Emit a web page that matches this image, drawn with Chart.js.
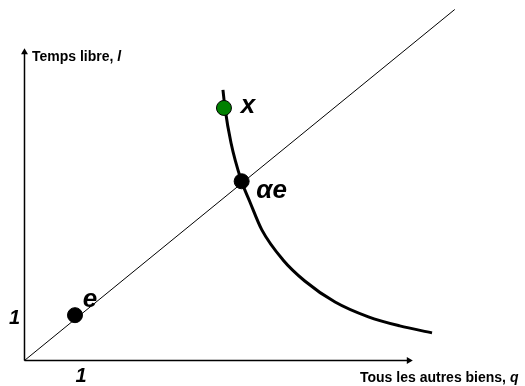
<!DOCTYPE html>
<html>
<head>
<meta charset="utf-8">
<script src="https://cdn.jsdelivr.net/npm/chart.js@4/dist/chart.umd.min.js"></script>
<style>
  body { margin: 0; background: #fff; }
</style>
</head>
<body>
<canvas id="chart" width="525" height="386"></canvas>
<script>
// axes (origin at 0,0), arrow tips drawn as triangles at the last point
const yAxisLine = [{x: 0, y: 0}, {x: 0, y: 7.48}];
const xAxisLine = [{x: 0, y: 0}, {x: 7.61, y: 0}];

// ray through the origin
const diagonal = [{x: 0, y: 0}, {x: 8.52, y: 8.52}];

// indifference curve
const curveX = [3.93, 3.97, 4.09, 4.29, 4.47, 4.70, 5.12, 5.55, 6.15, 6.81, 7.43, 8.07];
const curveY = [6.57, 6.13, 5.28, 4.38, 3.83, 3.17, 2.44, 1.93, 1.42, 1.06, 0.84, 0.67];

// marked bundles
const pointNames = ['e', 'αe', 'x'];
const pointX = [1.0, 4.3, 3.95];
const pointY = [1.1, 4.35, 6.13];

const curve = curveX.map((x, i) => ({x: x, y: curveY[i]}));
const pts = pointX.map((x, i) => ({x: x, y: pointY[i]}));

const labelsPlugin = {
    id: 'labels',
    afterDraw(chart) {
        const ctx = chart.ctx;
        const xs = chart.scales.x;
        const ys = chart.scales.y;
        ctx.save();
        ctx.fillStyle = '#000';

        // point labels
        ctx.font = 'italic bold 26px "Liberation Sans", Arial, sans-serif';
        ctx.textBaseline = 'middle';
        ctx.textAlign = 'center';
        const offsets = [[15, -15], [30, 10], [24, -2]];
        pts.forEach((p, i) => {
            ctx.fillText(pointNames[i], xs.getPixelForValue(p.x) + offsets[i][0], ys.getPixelForValue(p.y) + offsets[i][1]);
        });

        // the "1" marks
        ctx.font = 'italic bold 20px "Liberation Sans", Arial, sans-serif';
        ctx.fillText('1', xs.getPixelForValue(0) - 10, ys.getPixelForValue(1) - 1);
        ctx.fillText('1', xs.getPixelForValue(1) + 6, ys.getPixelForValue(0) + 16);

        // axis titles
        ctx.textAlign = 'left';
        ctx.textBaseline = 'alphabetic';
        ctx.font = 'bold 14px "Liberation Sans", Arial, sans-serif';
        let t = 'Temps libre, ';
        let x0 = 32, y0 = 61;
        ctx.fillText(t, x0, y0);
        let w = ctx.measureText(t).width;
        ctx.font = 'italic bold 14px "Liberation Sans", Arial, sans-serif';
        ctx.fillText('l', x0 + w, y0);

        ctx.font = 'bold 14px "Liberation Sans", Arial, sans-serif';
        t = 'Tous les autres biens, ';
        x0 = 360; y0 = 382;
        ctx.fillText(t, x0, y0);
        w = ctx.measureText(t).width;
        ctx.font = 'italic bold 14px "Liberation Sans", Arial, sans-serif';
        ctx.fillText('q', x0 + w, y0);
        ctx.restore();
    }
};

chart = new Chart(document.getElementById('chart').getContext('2d'), {
    type: 'scatter',
    data: {
        datasets: [{
            data: pts,
            showLine: false,
            pointRadius: 7.5,
            pointBackgroundColor: ['#000', '#000', '#008000'],
            pointBorderColor: '#000',
            pointBorderWidth: 1
        }, {
            data: curve,
            showLine: true,
            borderColor: '#000',
            borderWidth: 3,
            pointRadius: 0,
            cubicInterpolationMode: 'monotone'
        }, {
            data: diagonal,
            showLine: true,
            borderColor: '#000',
            borderWidth: 1,
            pointRadius: 0
        }, {
            data: yAxisLine,
            showLine: true,
            borderColor: '#000',
            borderWidth: 1.5,
            pointRadius: [0, 4],
            pointStyle: 'triangle',
            rotation: 0,
            pointBackgroundColor: '#000',
            pointBorderWidth: 0
        }, {
            data: xAxisLine,
            showLine: true,
            borderColor: '#000',
            borderWidth: 1.5,
            pointRadius: [0, 4],
            pointStyle: 'triangle',
            rotation: 90,
            pointBackgroundColor: '#000',
            pointBorderWidth: 0
        }]
    },
    options: {
        responsive: false,
        animation: false,
        layout: { padding: 0, autoPadding: false },
        plugins: {
            legend: { display: false },
            tooltip: { enabled: false }
        },
        scales: {
            x: { type: 'linear', display: false, min: -0.485, max: 9.911 },
            y: { type: 'linear', display: false, min: -0.619, max: 8.750 }
        }
    },
    plugins: [labelsPlugin]
});
</script>
</body>
</html>
